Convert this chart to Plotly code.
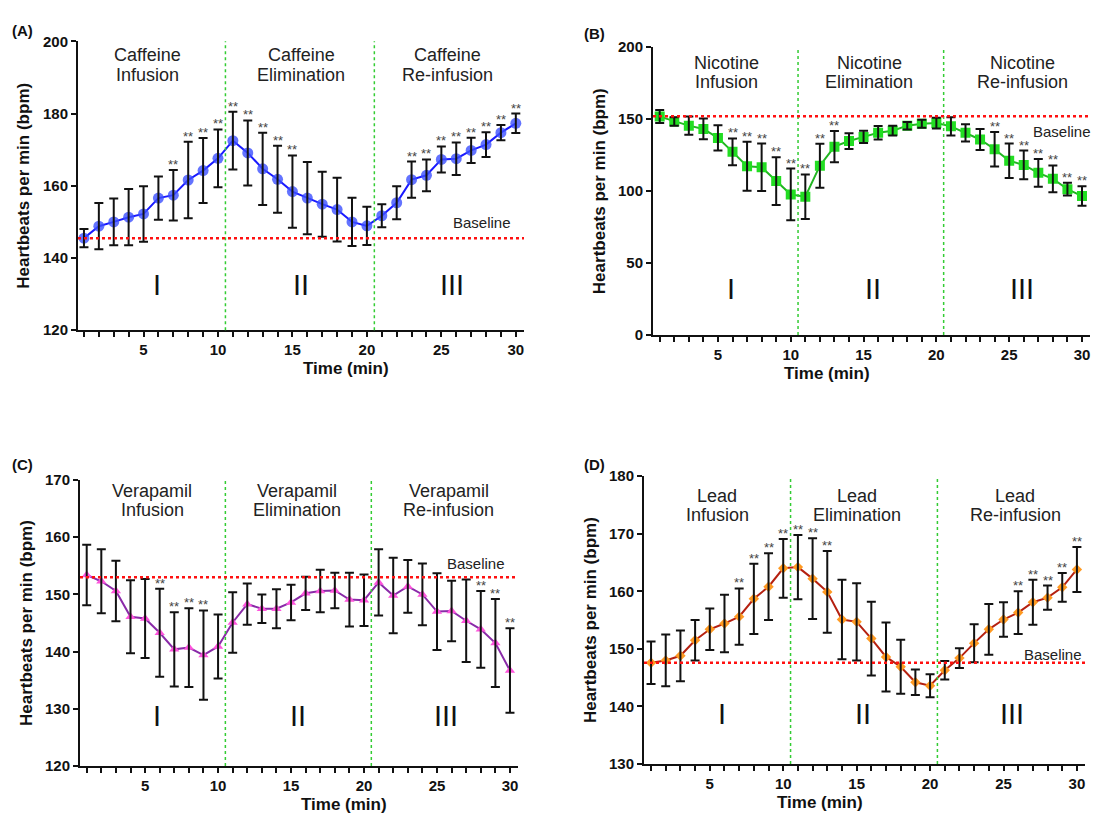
import plotly.graph_objects as go

W, H = 1095, 822

# ---- data -------------------------------------------------------------
minutes = list(range(1, 31))
x_tick_text = [str(m) if m % 5 == 0 else "" for m in minutes]
phase_names = ["Infusion", "Elimination", "Re-infusion"]
phase_numerals = ["I", "II", "III"]

caffeine_mean = [145.5, 148.8, 150.0, 151.3, 152.2, 156.6, 157.4, 161.6, 164.2, 167.6,
                 172.5, 169.1, 164.7, 161.8, 158.4, 156.6, 154.9, 153.4, 150.0, 148.9,
                 151.7, 155.3, 161.7, 162.9, 167.3, 167.5, 169.8, 171.4, 174.7, 177.3]
caffeine_err = [2.5, 6.4, 6.5, 7.8, 7.7, 6.0, 7.0, 10.6, 9.0, 8.0,
                8.0, 9.0, 10.0, 9.3, 10.0, 10.0, 9.0, 8.8, 6.7, 5.3,
                3.2, 4.6, 5.0, 4.4, 3.6, 4.5, 3.5, 3.4, 2.1, 2.7]
caffeine_baseline = 145.5
caffeine_signif = [7, 8, 9, 10, 11, 12, 13, 14, 15, 23, 24, 25, 26, 27, 28, 29, 30]

nicotine_mean = [151.8, 148.4, 145.5, 143.2, 137.0, 127.3, 117.3, 116.6, 107.0, 97.7,
                 96.1, 117.7, 130.9, 134.8, 137.7, 140.5, 142.0, 145.5, 146.8, 147.3,
                 145.0, 140.5, 135.9, 129.1, 121.1, 118.2, 112.7, 108.6, 101.4, 96.6]
nicotine_err = [4.5, 3.0, 6.4, 7.2, 8.8, 9.3, 17.0, 16.5, 16.6, 18.0,
                15.5, 15.3, 10.8, 5.5, 4.2, 4.7, 3.4, 2.6, 2.8, 3.7,
                6.4, 6.0, 7.3, 12.0, 12.0, 10.0, 9.6, 9.3, 4.5, 6.8]
nicotine_baseline = 152.0
nicotine_signif = [6, 7, 8, 9, 10, 11, 12, 13, 24, 25, 26, 27, 28, 29, 30]

verapamil_mean = [153.4, 152.3, 150.6, 146.1, 145.8, 143.3, 140.4, 140.7, 139.4, 140.9,
                  145.1, 148.3, 147.5, 147.5, 148.6, 150.2, 150.6, 150.7, 149.1, 149.0,
                  152.1, 149.8, 151.4, 150.0, 147.0, 147.1, 145.4, 143.9, 141.5, 136.7]
verapamil_err = [5.3, 5.6, 5.3, 6.4, 6.9, 7.7, 6.5, 6.9, 7.8, 5.6,
                 5.3, 3.6, 2.5, 3.4, 3.1, 2.9, 3.7, 3.1, 4.7, 4.5,
                 5.8, 6.6, 4.6, 5.4, 6.7, 5.3, 7.2, 6.7, 7.7, 7.4]
verapamil_baseline = 153.0
verapamil_signif = [6, 7, 8, 9, 28, 29, 30]

lead_mean = [147.6, 148.0, 148.8, 151.5, 153.4, 154.4, 155.6, 158.7, 160.8, 164.0,
             164.2, 162.2, 159.9, 155.1, 154.7, 151.8, 148.6, 146.9, 144.2, 143.6,
             146.3, 148.4, 151.0, 153.4, 155.1, 156.3, 158.1, 158.9, 160.7, 163.8]
lead_err = [3.7, 4.5, 4.4, 3.5, 3.6, 5.0, 4.9, 6.1, 5.8, 5.1,
            5.6, 7.0, 7.1, 6.9, 6.7, 6.4, 6.0, 4.7, 2.2, 2.0,
            1.6, 1.7, 3.3, 4.4, 3.0, 3.7, 3.9, 2.1, 2.5, 3.9]
lead_baseline = 147.6
lead_signif = [7, 8, 9, 10, 11, 12, 13, 26, 27, 28, 29, 30]

# ---- panel styling / placement (pixel boxes) ---------------------------
panels = [
    dict(tag="(A)", drug="Caffeine", mean=caffeine_mean, err=caffeine_err,
         base=caffeine_baseline, signif=caffeine_signif,
         box=(78, 524, 33, 328), xr=[0.6, 30.55], yr=[120, 200], dy=20,
         symbol="circle", msize=11, mcolor="rgba(60,80,255,0.8)", lcolor="#1a1aff",
         tag_xy=(22, 22), ytitle_x=24,
         phase_x=[5.3, 15.6, 25.4], phase_y=(47, 67),
         num_x=[5.9, 15.6, 25.7], num_y=282,
         base_lbl=(27.7, 149.8)),
    dict(tag="(B)", drug="Nicotine", mean=nicotine_mean, err=nicotine_err,
         base=nicotine_baseline, signif=nicotine_signif,
         box=(653, 1090, 39, 333), xr=[0.54, 30.55], yr=[0, 200], dy=50,
         symbol="square", msize=10, mcolor="#22dd22", lcolor="#22b522",
         tag_xy=(594, 25), ytitle_x=599,
         phase_x=[5.6, 15.4, 25.9], phase_y=(55, 75),
         num_x=[5.9, 15.65, 25.9], num_y=286,
         base_lbl=(28.6, 141.6)),
    dict(tag="(C)", drug="Verapamil", mean=verapamil_mean, err=verapamil_err,
         base=verapamil_baseline, signif=verapamil_signif,
         box=(80, 518, 481, 773), xr=[0.54, 30.55], yr=[120, 170], dy=10,
         symbol="triangle-up", msize=9, mcolor="#ff55dd", lcolor="#8a2aa8",
         tag_xy=(22, 465), ytitle_x=26,
         phase_x=[5.5, 15.4, 25.8], phase_y=(492, 512),
         num_x=[5.8, 15.45, 25.6], num_y=722,
         base_lbl=(27.7, 155.4)),
    dict(tag="(D)", drug="Lead", mean=lead_mean, err=lead_err,
         base=lead_baseline, signif=lead_signif,
         box=(644, 1085, 477, 771), xr=[0.52, 30.55], yr=[130, 180], dy=10,
         symbol="diamond", msize=8, mcolor="#ff9a22", lcolor="#b52010",
         tag_xy=(594, 465), ytitle_x=590,
         phase_x=[5.5, 15.0, 25.8], phase_y=(497, 517),
         num_x=[5.8, 15.4, 25.6], num_y=720,
         base_lbl=(28.4, 149.1)),
]

FONT = "Liberation Sans, Arial, Helvetica, sans-serif"
TICK_FONT = dict(family=FONT, size=15, color="#111", weight="bold")


def px_x(p):
    return p / W


def px_y(p):
    return 1 - p / H


fig = go.Figure()
annotations = []
shapes = []

for i, p in enumerate(panels):
    n = "" if i == 0 else str(i + 1)
    xa, ya = "x" + n, "y" + n
    xl, yl = "xaxis" + n, "yaxis" + n
    x0, x1, y0, y1 = p["box"]

    # connecting line and markers
    fig.add_trace(go.Scatter(
        x=minutes, y=p["mean"], mode="lines+markers", xaxis=xa, yaxis=ya,
        line=dict(color=p["lcolor"], width=2),
        marker=dict(symbol=p["symbol"], size=p["msize"], color=p["mcolor"],
                    line=dict(width=0)),
        showlegend=False, hoverinfo="skip"))
    # error bars drawn on top of the markers
    fig.add_trace(go.Scatter(
        x=minutes, y=p["mean"], mode="markers", xaxis=xa, yaxis=ya,
        marker=dict(size=1, color="rgba(0,0,0,0)"),
        error_y=dict(type="data", array=p["err"], visible=True,
                     color="#111111", thickness=2, width=4.5),
        showlegend=False, hoverinfo="skip"))

    fig.update_layout({
        xl: dict(domain=[px_x(x0), px_x(x1)], anchor=ya, range=p["xr"],
                 tickmode="array", tickvals=minutes, ticktext=x_tick_text,
                 ticks="outside", ticklen=5, tickwidth=2, tickcolor="#111",
                 showline=True, linecolor="#111", linewidth=2,
                 showgrid=False, zeroline=False, tickfont=TICK_FONT),
        yl: dict(domain=[px_y(y1), px_y(y0)], anchor=xa, range=p["yr"],
                 tickmode="linear", tick0=p["yr"][0], dtick=p["dy"],
                 ticks="outside", ticklen=5, tickwidth=2, tickcolor="#111",
                 showline=True, linecolor="#111", linewidth=2,
                 showgrid=False, zeroline=False, tickfont=TICK_FONT),
    })

    # phase boundaries
    for xb in (10.5, 20.5):
        shapes.append(dict(type="line", xref=xa, yref=ya + " domain",
                           x0=xb, x1=xb, y0=0, y1=1,
                           line=dict(color="#33cc33", width=1.5, dash="dot")))
    # baseline
    shapes.append(dict(type="line", xref=xa + " domain", yref=ya,
                       x0=0, x1=1, y0=p["base"], y1=p["base"],
                       line=dict(color="#ff1010", width=2.5, dash="dot")))

    # significance markers above the error bars
    for m in p["signif"]:
        top = p["mean"][m - 1] + p["err"][m - 1]
        annotations.append(dict(x=m, y=top, xref=xa, yref=ya, text="**",
                                showarrow=False, yanchor="bottom", yshift=-4,
                                font=dict(family=FONT, size=13, color="#444")))

    # phase headings and numerals
    for k in range(3):
        annotations.append(dict(x=p["phase_x"][k], y=px_y(p["phase_y"][0]),
                                xref=xa, yref="paper", text=p["drug"],
                                showarrow=False, yanchor="middle",
                                font=dict(family=FONT, size=18, color="#222")))
        annotations.append(dict(x=p["phase_x"][k], y=px_y(p["phase_y"][1]),
                                xref=xa, yref="paper", text=phase_names[k],
                                showarrow=False, yanchor="middle",
                                font=dict(family=FONT, size=18, color="#222")))
        annotations.append(dict(x=p["num_x"][k], y=px_y(p["num_y"]),
                                xref=xa, yref="paper", text=phase_numerals[k],
                                showarrow=False, yanchor="middle",
                                font=dict(family=FONT, size=29, color="#111")))

    annotations.append(dict(x=p["base_lbl"][0], y=p["base_lbl"][1], xref=xa, yref=ya,
                            text="Baseline", showarrow=False,
                            font=dict(family=FONT, size=15, color="#222")))

    # axis titles
    annotations.append(dict(x=px_x((x0 + x1) / 2), y=px_y(y1 + 39), xref="paper",
                            yref="paper", text="<b>Time (min)</b>", showarrow=False,
                            yanchor="middle",
                            font=dict(family=FONT, size=17, color="#111")))
    annotations.append(dict(x=px_x(p["ytitle_x"]), y=px_y((y0 + y1) / 2),
                            xref="paper", yref="paper",
                            text="<b>Heartbeats per min (bpm)</b>", textangle=-90,
                            showarrow=False, xanchor="center", yanchor="middle",
                            font=dict(family=FONT, size=17, color="#111")))
    # panel tag
    annotations.append(dict(x=px_x(p["tag_xy"][0]), y=px_y(p["tag_xy"][1]),
                            xref="paper", yref="paper", text="<b>" + p["tag"] + "</b>",
                            showarrow=False, xanchor="center", yanchor="middle",
                            font=dict(family=FONT, size=15, color="#111")))

fig.update_layout(width=W, height=H, autosize=False,
                  margin=dict(l=0, r=0, t=0, b=0),
                  paper_bgcolor="white", plot_bgcolor="white",
                  showlegend=False, annotations=annotations, shapes=shapes)

fig.write_html("out.html")
